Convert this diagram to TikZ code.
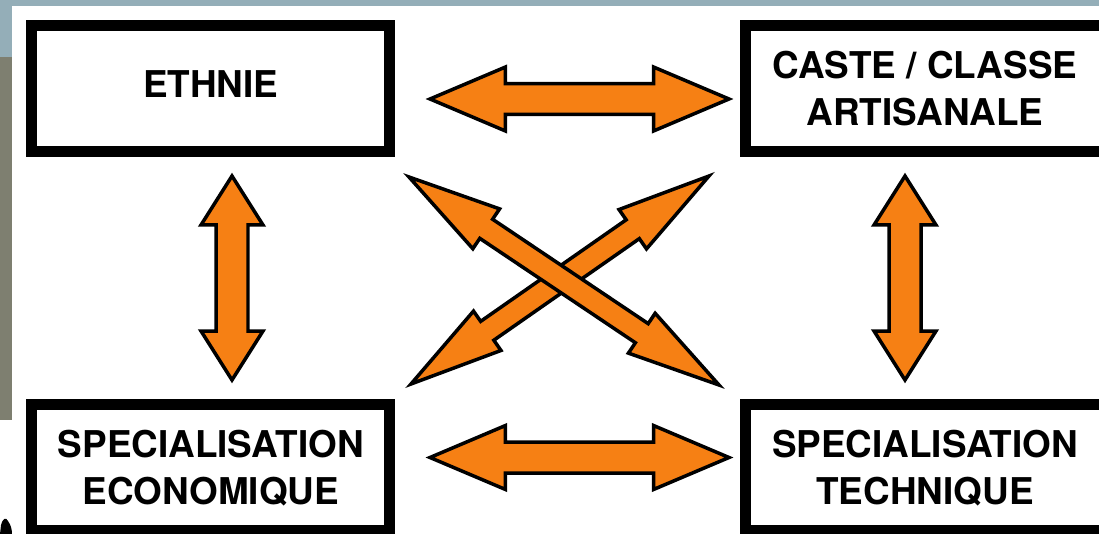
\documentclass[tikz,border=0pt]{standalone}
\usepackage{fontspec}
\setsansfont{TeX Gyre Heros}
\usetikzlibrary{calc}
\definecolor{arrOrange}{RGB}{246,128,20}
\definecolor{topBlue}{RGB}{148,174,184}
\definecolor{sideGray}{RGB}{126,127,112}
\tikzset{
  boite/.style={draw, line width=0.22cm, minimum width=7.17cm, minimum height=2.52cm,
    align=center, inner sep=0pt, font=\sffamily\bfseries\fontsize{21}{26.7}\selectfont},
  flecheBloc/.style={fill=arrOrange, draw=black, line width=0.07cm, line join=miter}
}
% double block arrow: from, to, head length, head half width, shaft half width
\newcommand{\dblFleche}[5]{%
  \draw[flecheBloc] (#1)
    -- ($(#1)!#3!(#2)!#4!90:(#2)$)
    -- ($(#1)!#3!(#2)!#5!90:(#2)$)
    -- ($(#2)!#3!(#1)!#5!-90:(#1)$)
    -- ($(#2)!#3!(#1)!#4!-90:(#1)$)
    -- (#2)
    -- ($(#2)!#3!(#1)!#4!90:(#1)$)
    -- ($(#2)!#3!(#1)!#5!90:(#1)$)
    -- ($(#1)!#3!(#2)!#5!-90:(#2)$)
    -- ($(#1)!#3!(#2)!#4!-90:(#2)$)
    -- cycle;}
\begin{document}
\begin{tikzpicture}[x=0.02cm,y=-0.02cm]
    \useasboundingbox (0,0) rectangle (1099,534);
    \clip (0,0) rectangle (1099,534);
    % background
    \fill[topBlue] (0,0) rectangle (1099,6);
    \fill[topBlue] (0,0) rectangle (12,57);
    \fill[sideGray] (0,57) rectangle (12,420);
    \fill[black] (0,534) -- (1,525) .. controls (3,518) and (6,517) .. (8,521)
        .. controls (11,525) and (12,530) .. (12,534) -- cycle;
    % boxes
    \node[boite, text depth=0.2cm] (nEthnie) at (210.75,88.75) {ETHNIE};
    \node[boite] (nCaste) at (925,88.75) {CASTE / CLASSE\\ARTISANALE};
    \node[boite] (nSpecEco) at (210.75,467.75) {SPECIALISATION\\ECONOMIQUE};
    \node[boite] (nSpecTech) at (925,467.75) {SPECIALISATION\\TECHNIQUE};
    % arrow ends
    \coordinate (cHautG) at (430,99);
    \coordinate (cHautD) at (729,99);
    \coordinate (cBasG) at (430,457.5);
    \coordinate (cBasD) at (729,457.5);
    \coordinate (cGaucheH) at (232,176);
    \coordinate (cGaucheB) at (232,380);
    \coordinate (cDroiteH) at (905,176);
    \coordinate (cDroiteB) at (905,380);
    \coordinate (cDiagAH) at (709,176);
    \coordinate (cDiagAB) at (411,384);
    \coordinate (cDiagBH) at (409,177);
    \coordinate (cDiagBB) at (719,385);
\foreach \a/\b/\h/\w/\s in
{cHautG/cHautD/1.51cm/0.64cm/0.31cm,
    cBasG/cBasD/1.51cm/0.64cm/0.31cm,
    cGaucheH/cGaucheB/0.98cm/0.62cm/0.32cm,
    cDroiteH/cDroiteB/0.98cm/0.62cm/0.32cm,
    cDiagAH/cDiagAB/1.86cm/0.48cm/0.23cm,
    cDiagBH/cDiagBB/1.86cm/0.48cm/0.23cm
}
{
    \dblFleche{\a}{\b}{\h}{\w}{\s}
};
\end{tikzpicture}
\end{document}
